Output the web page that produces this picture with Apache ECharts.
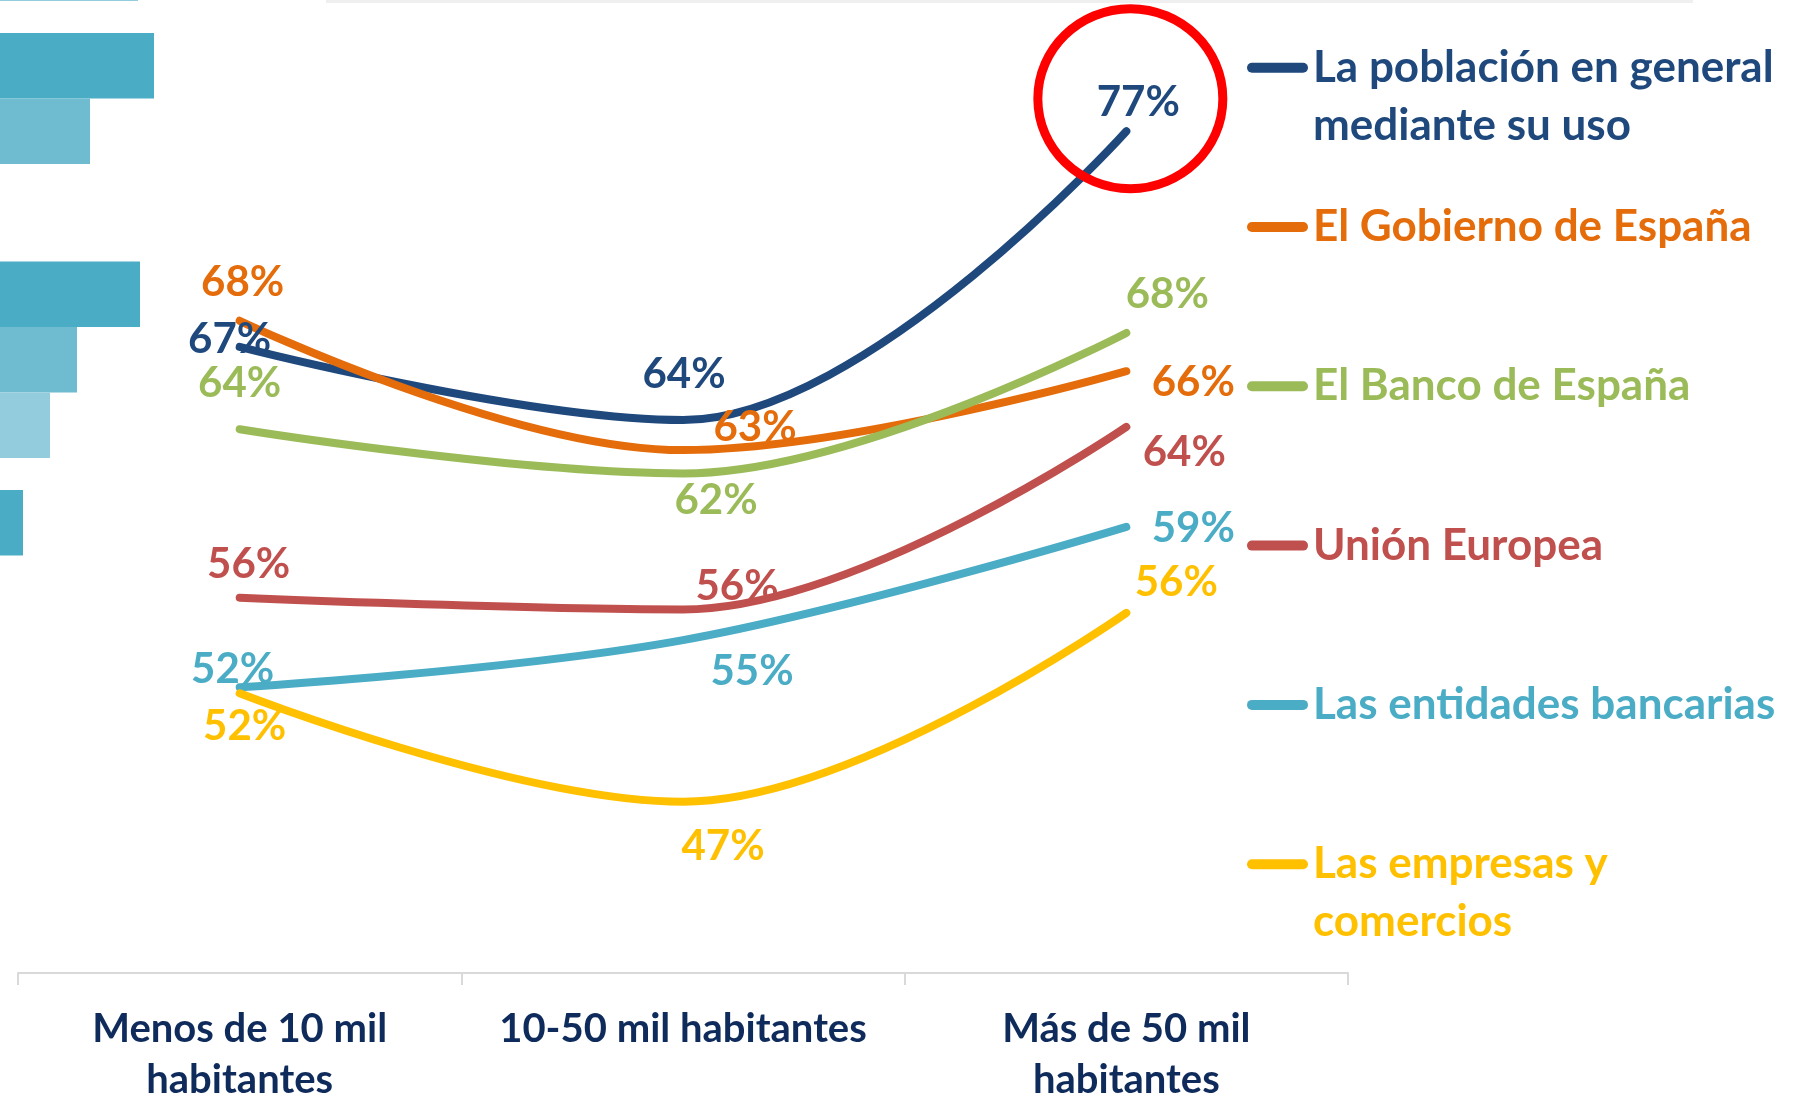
<!DOCTYPE html>
<html>
<head>
<meta charset="utf-8">
<script src="https://cdn.jsdelivr.net/npm/echarts@6/dist/echarts.min.js"></script>
<style>
html,body{margin:0;padding:0;background:#ffffff;}
#chart{width:1794px;height:1098px;}
</style>
</head>
<body>
<div id="chart"></div>
<script>
// ---- data ----
const categories = ['Menos de 10 mil habitantes', '10-50 mil habitantes', 'Más de 50 mil habitantes'];
const seriesNames = [
  'La población en general mediante su uso',
  'El Gobierno de España',
  'El Banco de España',
  'Unión Europea',
  'Las entidades bancarias',
  'Las empresas y comercios'
];
const poblacion    = [67.31, 64.12, 76.72];
const gobierno     = [68.45, 62.81, 66.25];
const bancoEspana  = [63.72, 61.79, 67.92];
const unionEuropea = [56.37, 55.86, 63.82];
const entidades    = [52.46, 54.52, 59.46];
const empresas     = [52.20, 47.47, 55.71];

// fragment of a neighbouring bar chart, cut by the left edge
const fragCategories = ['g1', 'g2', 'g3', 'g4'];
const fragDark   = [null, 77, 70, 11.5];
const fragMedium = [null, 45, 38.5, null];
const fragLight  = [69, null, 25, null];

// ---- styles ----
const FONT = 'Lato';
const colors = ['#1F497D', '#E46C0A', '#9BBB59', '#C0504D', '#4BACC6', '#FFC000'];
const axisTextColor = '#0F2B5B';
const labelOffsets = [
  [[-10, -7], [1, -46], [12, -29]],
  [[3, -38], [72, -23], [67, 11]],
  [[0, -46], [33, 27], [41, -38]],
  [[9, -33], [54, -23], [58, 26]],
  [[-7, -18], [69, 31], [67, 2]],
  [[5, 33], [40, 45], [50, -30]]
];
const allValues = [poblacion, gobierno, bancoEspana, unionEuropea, entidades, empresas];

const legendFont = 44, legendLine = 58, legendWidth = 478;
const legendTop0 = 67.7, legendStep = 159.3;
const axisFont = 40, axisLine = 51.5, axisWidth = 400;

const measureCtx = document.createElement('canvas').getContext('2d');
function wrapWords(text, maxW, fontSize) {
  measureCtx.font = 'bold ' + fontSize + 'px ' + FONT;
  const words = text.split(' ');
  const lines = [];
  let cur = '';
  words.forEach(w => {
    const test = cur ? cur + ' ' + w : w;
    if (cur && measureCtx.measureText(test).width > maxW) {
      lines.push(cur);
      cur = w;
    } else {
      cur = test;
    }
  });
  if (cur) lines.push(cur);
  return lines;
}

const lineSeries = allValues.map((vals, i) => ({
  type: 'line',
  name: seriesNames[i],
  xAxisIndex: 0,
  yAxisIndex: 0,
  data: vals.map((v, j) => ({ value: v, label: { offset: labelOffsets[i][j] } })),
  smooth: 0.38,
  symbol: 'circle',
  symbolSize: 2,
  showSymbol: true,
  itemStyle: { color: colors[i] },
  lineStyle: { color: colors[i], width: 8, cap: 'round', join: 'round' },
  label: {
    show: true,
    position: 'inside',
    formatter: p => Math.round(p.value) + '%',
    color: colors[i],
    fontFamily: FONT,
    fontWeight: 'bold',
    fontSize: 42
  },
  emphasis: { disabled: true },
  silent: true
}));

const fragColors = ['#4BACC6', '#6FBBD0', '#93CDDD'];
const barSeries = [fragDark, fragMedium, fragLight].map((vals, i) => ({
  type: 'bar',
  xAxisIndex: 1,
  yAxisIndex: 1,
  data: vals,
  barGap: '0%',
  barCategoryGap: '14%',
  itemStyle: { color: fragColors[i] },
  silent: true,
  emphasis: { disabled: true }
}));

const iconPath = 'path://M5,0 L56,0 A5,5 0 0 1 56,10 L5,10 A5,5 0 0 1 5,0 Z';
const legends = seriesNames.map((name, i) => {
  const lines = wrapWords(name, legendWidth, legendFont);
  const twoLines = lines.length > 1;
  const center = legendTop0 + i * legendStep;
  // an empty first line keeps the icon level with the first text line
  const shown = twoLines ? '\n' + lines.join('\n') : lines[0];
  return {
    data: [name],
    left: 1247,
    top: twoLines ? center - legendLine * 1.5 : center - legendLine / 2,
    padding: 0,
    icon: iconPath,
    itemWidth: 61,
    itemHeight: 10,
    selectedMode: false,
    formatter: () => shown,
    textStyle: {
      color: colors[i],
      fontFamily: FONT,
      fontWeight: 'bold',
      fontSize: legendFont,
      lineHeight: legendLine
    }
  };
});

const chart = echarts.init(document.getElementById('chart'), null, { renderer: 'canvas' });
const option = {
  animation: false,
  backgroundColor: '#ffffff',
  grid: [
    { left: 18, right: 446, top: 56, bottom: 125, outerBoundsMode: 'none', containLabel: false },
    { left: 0, width: 200, top: -211.6, height: 914, outerBoundsMode: 'none', containLabel: false }
  ],
  xAxis: [
    {
      type: 'category', gridIndex: 0, data: categories, boundaryGap: true,
      axisLine: { show: true, lineStyle: { color: '#D9D9D9', width: 2 } },
      axisTick: { show: true, length: 12, lineStyle: { color: '#D9D9D9', width: 2 } },
      axisLabel: {
        interval: 0, color: axisTextColor, fontFamily: FONT, fontWeight: 'bold',
        fontSize: axisFont, lineHeight: axisLine, margin: 30,
        formatter: v => wrapWords(v, axisWidth, axisFont).join('\n')
      },
      splitLine: { show: false }
    },
    { type: 'value', gridIndex: 1, min: 0, max: 100, show: false }
  ],
  yAxis: [
    { type: 'value', gridIndex: 0, min: 40, max: 80, show: false },
    { type: 'category', gridIndex: 1, data: fragCategories, inverse: true, show: false }
  ],
  legend: legends,
  series: lineSeries.concat(barSeries)
};
chart.setOption(option);

const peak = chart.convertToPixel({ gridIndex: 0 }, [2, poblacion[2]]);
chart.setOption({
  graphic: [
    {
      type: 'rect', silent: true, z: 1,
      shape: { x: 326, y: 0, width: 1367, height: 3 },
      style: { fill: '#EFEFEF' }
    },
    {
      type: 'ellipse', silent: true, z: 100,
      shape: { cx: peak[0] + 4, cy: peak[1] - 32.5, rx: 92.5, ry: 90 },
      style: { fill: 'none', stroke: '#FF0000', lineWidth: 9 }
    }
  ]
});
</script>
</body>
</html>
